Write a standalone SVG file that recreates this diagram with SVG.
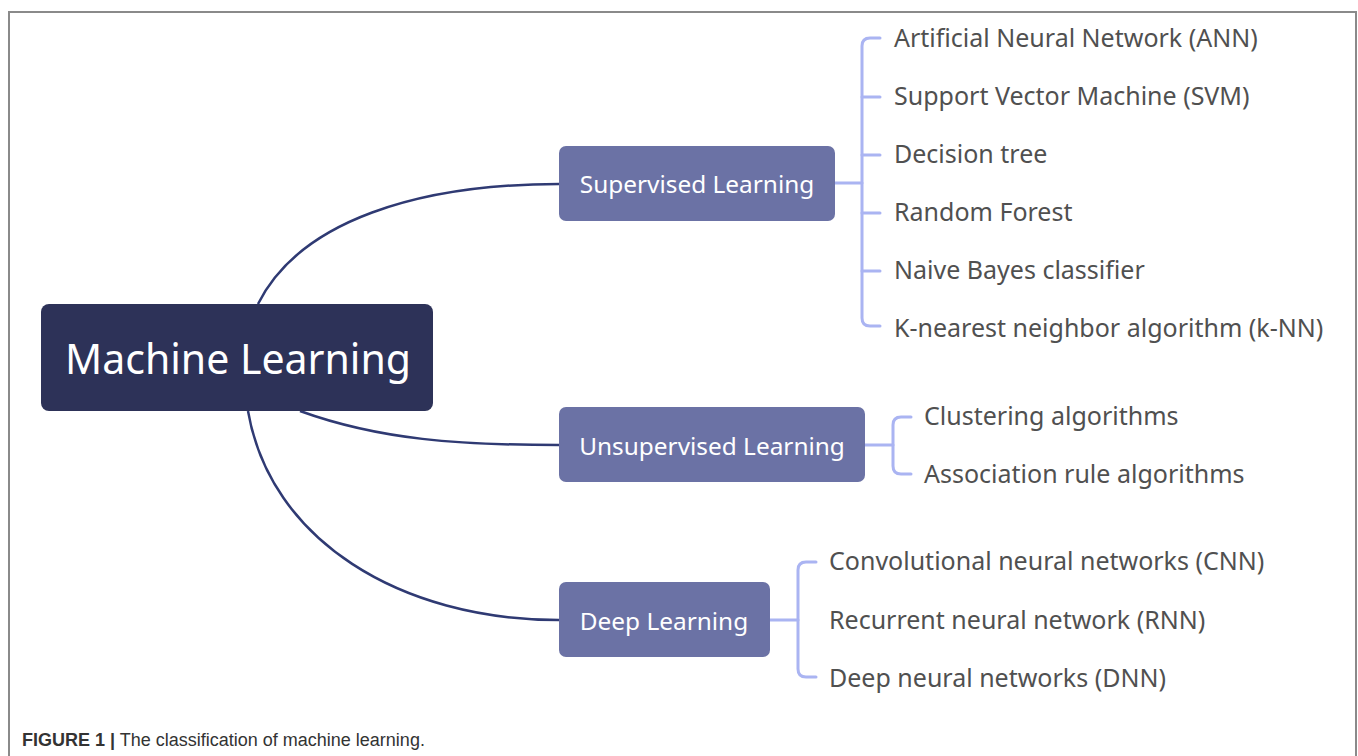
<svg xmlns="http://www.w3.org/2000/svg" width="1358" height="756" viewBox="0 0 1358 756">
  <style>
    .frame { fill: none; stroke: #8a8a8a; stroke-width: 2; }
    .root rect { fill: #2d3258; }
    .root text { fill: #ffffff; font-family: "Noto Sans", "Open Sans", sans-serif; font-size: 41px; text-anchor: middle; }
    .branch rect { fill: #6b72a5; }
    .branch text { fill: #ffffff; font-family: "Noto Sans", "Open Sans", sans-serif; font-size: 24.4px; text-anchor: middle; }
    .leaf text { fill: #505050; font-family: "Noto Sans", "Open Sans", sans-serif; font-size: 25px; }
    .main-link { fill: none; stroke: #2f3a73; stroke-width: 2.5; }
    .bracket { fill: none; stroke: #aab4f2; stroke-width: 3; stroke-linecap: round; stroke-linejoin: round; }
    .caption { font-family: "Liberation Sans", Arial, sans-serif; font-size: 18px; fill: #333333; }
  </style>

  <!-- figure frame (open at the bottom) -->
  <path class="frame" d="M9 756 V12 H1356 V756"/>

  <!-- connectors -->
  <g id="connectors">
    <path class="main-link" d="M258 304 C 300 220, 420 184, 559 184"/>
    <path class="main-link" d="M300 411 C 380 440, 460 445, 559 445"/>
    <path class="main-link" d="M248 411 C 270 540, 400 620, 559 620"/>

    <!-- supervised bracket -->
    <path class="bracket" d="M835 183 H862"/>
    <path class="bracket" d="M880 38 H870 Q862 38 862 46 V318 Q862 326 870 326 H880"/>
    <path class="bracket" d="M862 97 H880"/>
    <path class="bracket" d="M862 155 H880"/>
    <path class="bracket" d="M862 213 H880"/>
    <path class="bracket" d="M862 271 H880"/>

    <!-- unsupervised bracket -->
    <path class="bracket" d="M865 445 H893"/>
    <path class="bracket" d="M911 417 H901 Q893 417 893 425 V466 Q893 474 901 474 H911"/>

    <!-- deep learning bracket -->
    <path class="bracket" d="M770 620 H798"/>
    <path class="bracket" d="M816 562 H806 Q798 562 798 570 V669 Q798 677 806 677 H816"/>
  </g>

  <g id="machine-learning" class="root">
    <rect x="41" y="304" width="392" height="107" rx="8"/>
    <text x="238" y="374">Machine Learning</text>
  </g>

  <g id="supervised" class="branch">
    <rect x="559" y="146" width="276" height="75" rx="7"/>
    <text x="697" y="193">Supervised Learning</text>
  </g>
  <g id="unsupervised" class="branch">
    <rect x="559" y="407" width="306" height="75" rx="7"/>
    <text x="712" y="455">Unsupervised Learning</text>
  </g>
  <g id="deep" class="branch">
    <rect x="559" y="582" width="211" height="75" rx="7"/>
    <text x="664" y="630">Deep Learning</text>
  </g>

  <g id="supervised-items" class="leaf">
    <text x="894" y="47">Artificial Neural Network (ANN)</text>
    <text x="894" y="105">Support Vector Machine (SVM)</text>
    <text x="894" y="163">Decision tree</text>
    <text x="894" y="221">Random Forest</text>
    <text x="894" y="279">Naive Bayes classifier</text>
    <text x="894" y="337">K-nearest neighbor algorithm (k-NN)</text>
  </g>
  <g id="unsupervised-items" class="leaf">
    <text x="924" y="425">Clustering algorithms</text>
    <text x="924" y="483">Association rule algorithms</text>
  </g>
  <g id="deep-items" class="leaf">
    <text x="829" y="570">Convolutional neural networks (CNN)</text>
    <text x="829" y="629">Recurrent neural network (RNN)</text>
    <text x="829" y="687">Deep neural networks (DNN)</text>
  </g>

  <text class="caption" x="22" y="746"><tspan font-weight="bold">FIGURE 1 |</tspan> The classification of machine learning.</text>
</svg>
